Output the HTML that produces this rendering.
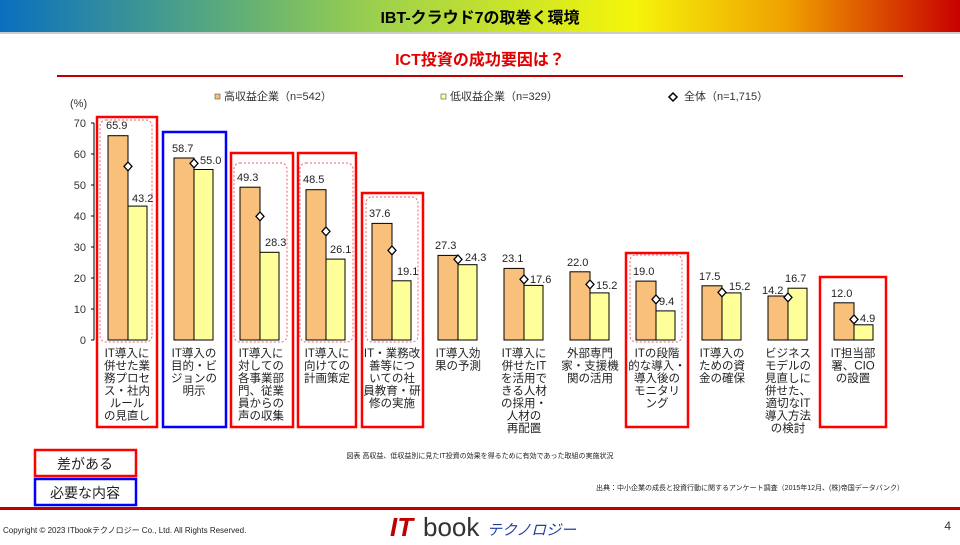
<!DOCTYPE html>
<html><head><meta charset="utf-8"><style>
body{margin:0;width:960px;height:540px;overflow:hidden;background:#fff;font-family:"Liberation Sans","Noto Sans CJK JP",sans-serif}
</style></head><body>
<svg width="960" height="540" viewBox="0 0 960 540" xmlns="http://www.w3.org/2000/svg" font-family="Liberation Sans, Noto Sans CJK JP, sans-serif">
<defs>
<linearGradient id="hg" x1="0" x2="1" y1="0" y2="0">
<stop offset="0" stop-color="#0a6fbf"/><stop offset="0.22" stop-color="#55a880"/><stop offset="0.4" stop-color="#9fd24a"/><stop offset="0.66" stop-color="#f5f50a"/><stop offset="0.82" stop-color="#f0a000"/><stop offset="1" stop-color="#c80000"/>
</linearGradient>
</defs>
<rect x="0" y="0" width="960" height="32" fill="url(#hg)"/>
<rect x="0" y="32" width="960" height="2" fill="#999" opacity="0.5"/>
<text x="480" y="23" font-size="16" font-weight="bold" text-anchor="middle">IBT-クラウド7の取巻く環境</text>
<text x="480" y="65" font-size="16" font-weight="bold" fill="#e00000" text-anchor="middle">ICT投資の成功要因は？</text>
<rect x="57" y="75" width="846" height="2" fill="#c00000"/>
<rect x="215" y="94" width="5" height="5" fill="#f8c07a" stroke="#333" stroke-width="0.5"/>
<text x="224" y="100" font-size="11" fill="#333">高収益企業（n=542）</text>
<rect x="441" y="94" width="5" height="5" fill="#ffff99" stroke="#333" stroke-width="0.5"/>
<text x="450" y="100" font-size="11" fill="#333">低収益企業（n=329）</text>
<path d="M673 93 L677 97 L673 101 L669 97 Z" fill="#fff" stroke="#000" stroke-width="1.5"/>
<text x="684" y="100" font-size="11" fill="#333">全体（n=1,715）</text>
<text x="70" y="107" font-size="11" fill="#333">(%)</text>
<g font-size="11" fill="#333" text-anchor="end">
<text x="86" y="127">70</text><text x="86" y="158">60</text><text x="86" y="189">50</text><text x="86" y="220">40</text><text x="86" y="251">30</text><text x="86" y="282">20</text><text x="86" y="313">10</text><text x="86" y="344">0</text>
</g>
<line x1="94" y1="123" x2="94" y2="340" stroke="#000" stroke-width="1"/>
<g stroke="#000" stroke-width="1"><line x1="91" y1="123" x2="94" y2="123"/><line x1="91" y1="154" x2="94" y2="154"/><line x1="91" y1="185" x2="94" y2="185"/><line x1="91" y1="216" x2="94" y2="216"/><line x1="91" y1="247" x2="94" y2="247"/><line x1="91" y1="278" x2="94" y2="278"/><line x1="91" y1="309" x2="94" y2="309"/><line x1="91" y1="340" x2="94" y2="340"/></g>
<g fill="none" stroke="#f06070" stroke-width="1" stroke-dasharray="2,2">
<rect x="100" y="120" width="52" height="222" rx="6"/>
<rect x="234" y="163" width="53" height="179" rx="6"/>
<rect x="300" y="163" width="53" height="179" rx="6"/>
<rect x="366" y="197" width="52" height="145" rx="6"/>
<rect x="630" y="255" width="52" height="87" rx="6"/>
</g>
<g stroke="#000" stroke-width="1">
<rect x="108" y="135.7" width="20" height="204.3" fill="#f8c07a"/><rect x="128" y="206.1" width="19" height="133.9" fill="#ffff99"/>
<rect x="174" y="158" width="20" height="182" fill="#f8c07a"/><rect x="194" y="169.5" width="19" height="170.5" fill="#ffff99"/>
<rect x="240" y="187.2" width="20" height="152.8" fill="#f8c07a"/><rect x="260" y="252.3" width="19" height="87.7" fill="#ffff99"/>
<rect x="306" y="189.7" width="20" height="150.3" fill="#f8c07a"/><rect x="326" y="259.1" width="19" height="80.9" fill="#ffff99"/>
<rect x="372" y="223.4" width="20" height="116.6" fill="#f8c07a"/><rect x="392" y="280.8" width="19" height="59.2" fill="#ffff99"/>
<rect x="438" y="255.4" width="20" height="84.6" fill="#f8c07a"/><rect x="458" y="264.7" width="19" height="75.3" fill="#ffff99"/>
<rect x="504" y="268.4" width="20" height="71.6" fill="#f8c07a"/><rect x="524" y="285.4" width="19" height="54.6" fill="#ffff99"/>
<rect x="570" y="271.8" width="20" height="68.2" fill="#f8c07a"/><rect x="590" y="292.9" width="19" height="47.1" fill="#ffff99"/>
<rect x="636" y="281.1" width="20" height="58.9" fill="#f8c07a"/><rect x="656" y="310.9" width="19" height="29.1" fill="#ffff99"/>
<rect x="702" y="285.8" width="20" height="54.2" fill="#f8c07a"/><rect x="722" y="292.9" width="19" height="47.1" fill="#ffff99"/>
<rect x="768" y="296" width="20" height="44" fill="#f8c07a"/><rect x="788" y="288.2" width="19" height="51.8" fill="#ffff99"/>
<rect x="834" y="302.8" width="20" height="37.2" fill="#f8c07a"/><rect x="854" y="324.8" width="19" height="15.2" fill="#ffff99"/>
</g>
<g fill="#fff" stroke="#000" stroke-width="1.3">
<path d="M128 162 l4 4.4 l-4 4.4 l-4 -4.4z"/>
<path d="M194 159 l4 4.4 l-4 4.4 l-4 -4.4z"/>
<path d="M260 212 l4 4.4 l-4 4.4 l-4 -4.4z"/>
<path d="M326 227 l4 4.4 l-4 4.4 l-4 -4.4z"/>
<path d="M392 246 l4 4.4 l-4 4.4 l-4 -4.4z"/>
<path d="M458 255 l4 4.4 l-4 4.4 l-4 -4.4z"/>
<path d="M524 275 l4 4.4 l-4 4.4 l-4 -4.4z"/>
<path d="M590 280 l4 4.4 l-4 4.4 l-4 -4.4z"/>
<path d="M656 295 l4 4.4 l-4 4.4 l-4 -4.4z"/>
<path d="M722 288 l4 4.4 l-4 4.4 l-4 -4.4z"/>
<path d="M788 293 l4 4.4 l-4 4.4 l-4 -4.4z"/>
<path d="M854 315 l4 4.4 l-4 4.4 l-4 -4.4z"/>
</g>
<g font-size="11" fill="#222">
<text x="106" y="129">65.9</text><text x="132" y="202">43.2</text>
<text x="172" y="152">58.7</text><text x="200" y="164">55.0</text>
<text x="237" y="181">49.3</text><text x="265" y="246">28.3</text>
<text x="303" y="183">48.5</text><text x="330" y="253">26.1</text>
<text x="369" y="217">37.6</text><text x="397" y="275">19.1</text>
<text x="435" y="249">27.3</text><text x="465" y="261">24.3</text>
<text x="502" y="262">23.1</text><text x="530" y="283">17.6</text>
<text x="567" y="266">22.0</text><text x="596" y="289">15.2</text>
<text x="633" y="275">19.0</text><text x="659" y="305">9.4</text>
<text x="699" y="280">17.5</text><text x="729" y="290">15.2</text>
<text x="762" y="294">14.2</text><text x="785" y="282">16.7</text>
<text x="831" y="297">12.0</text><text x="860" y="322">4.9</text>
</g>
<g font-size="11.5" fill="#222" text-anchor="middle">
<text x="127" y="357">IT導入に</text><text x="127" y="369.5">併せた業</text><text x="127" y="382">務プロセ</text><text x="127" y="394.5">ス・社内</text><text x="127" y="407">ルール</text><text x="127" y="419.5">の見直し</text>
<text x="194" y="357">IT導入の</text><text x="194" y="369.5">目的・ビ</text><text x="194" y="382">ジョンの</text><text x="194" y="394.5">明示</text>
<text x="261" y="357">IT導入に</text><text x="261" y="369.5">対しての</text><text x="261" y="382">各事業部</text><text x="261" y="394.5">門、従業</text><text x="261" y="407">員からの</text><text x="261" y="419.5">声の収集</text>
<text x="327" y="357">IT導入に</text><text x="327" y="369.5">向けての</text><text x="327" y="382">計画策定</text>
<text x="392" y="357">IT・業務改</text><text x="392" y="369.5">善等につ</text><text x="392" y="382">いての社</text><text x="392" y="394.5">員教育・研</text><text x="392" y="407">修の実施</text>
<text x="458" y="357">IT導入効</text><text x="458" y="369.5">果の予測</text>
<text x="524" y="357">IT導入に</text><text x="524" y="369.5">併せたIT</text><text x="524" y="382">を活用で</text><text x="524" y="394.5">きる人材</text><text x="524" y="407">の採用・</text><text x="524" y="419.5">人材の</text><text x="524" y="432">再配置</text>
<text x="590" y="357">外部専門</text><text x="590" y="369.5">家・支援機</text><text x="590" y="382">関の活用</text>
<text x="657" y="357">ITの段階</text><text x="657" y="369.5">的な導入・</text><text x="657" y="382">導入後の</text><text x="657" y="394.5">モニタリ</text><text x="657" y="407">ング</text>
<text x="722" y="357">IT導入の</text><text x="722" y="369.5">ための資</text><text x="722" y="382">金の確保</text>
<text x="788" y="357">ビジネス</text><text x="788" y="369.5">モデルの</text><text x="788" y="382">見直しに</text><text x="788" y="394.5">併せた、</text><text x="788" y="407">適切なIT</text><text x="788" y="419.5">導入方法</text><text x="788" y="432">の検討</text>
<text x="853" y="357">IT担当部</text><text x="853" y="369.5">署、CIO</text><text x="853" y="382">の設置</text>
</g>
<g fill="none" stroke-width="2.5">
<rect x="97" y="117" width="60" height="310" stroke="#f00"/>
<rect x="163" y="132" width="63" height="295" stroke="#00f"/>
<rect x="231" y="153" width="62" height="274" stroke="#f00"/>
<rect x="298" y="153" width="58" height="274" stroke="#f00"/>
<rect x="362" y="193" width="61" height="234" stroke="#f00"/>
<rect x="626" y="253" width="62" height="174" stroke="#f00"/>
<rect x="820" y="277" width="66" height="150" stroke="#f00"/>
</g>
<text x="480" y="458" font-size="7" fill="#222" text-anchor="middle">図表  高収益、低収益別に見たIT投資の効果を得るために有効であった取組の実施状況</text>
<text x="750" y="490" font-size="7" fill="#222" text-anchor="middle">出典：中小企業の成長と投資行動に関するアンケート調査（2015年12月、(株)帝国データバンク）</text>
<rect x="35" y="450" width="101" height="26" fill="none" stroke="#f00" stroke-width="2.5"/>
<text x="85" y="469" font-size="14" fill="#222" text-anchor="middle">差がある</text>
<rect x="35" y="479" width="101" height="26" fill="none" stroke="#00f" stroke-width="2.5"/>
<text x="85" y="498" font-size="14" fill="#222" text-anchor="middle">必要な内容</text>
<rect x="0" y="507" width="960" height="3" fill="#c00000"/>
<text x="3" y="533" font-size="8" fill="#222">Copyright © 2023 ITbookテクノロジー Co., Ltd. All Rights Reserved.</text>
<text x="390" y="536" font-size="26" font-weight="bold" fill="#c00000" font-style="italic">IT</text>
<text x="423" y="536" font-size="26" fill="#333">book</text>
<text x="487" y="535" font-size="15" fill="#2040a0" font-style="italic">テクノロジー</text>
<text x="951" y="530" font-size="12" fill="#333" text-anchor="end">4</text>
</svg>
</body></html>
